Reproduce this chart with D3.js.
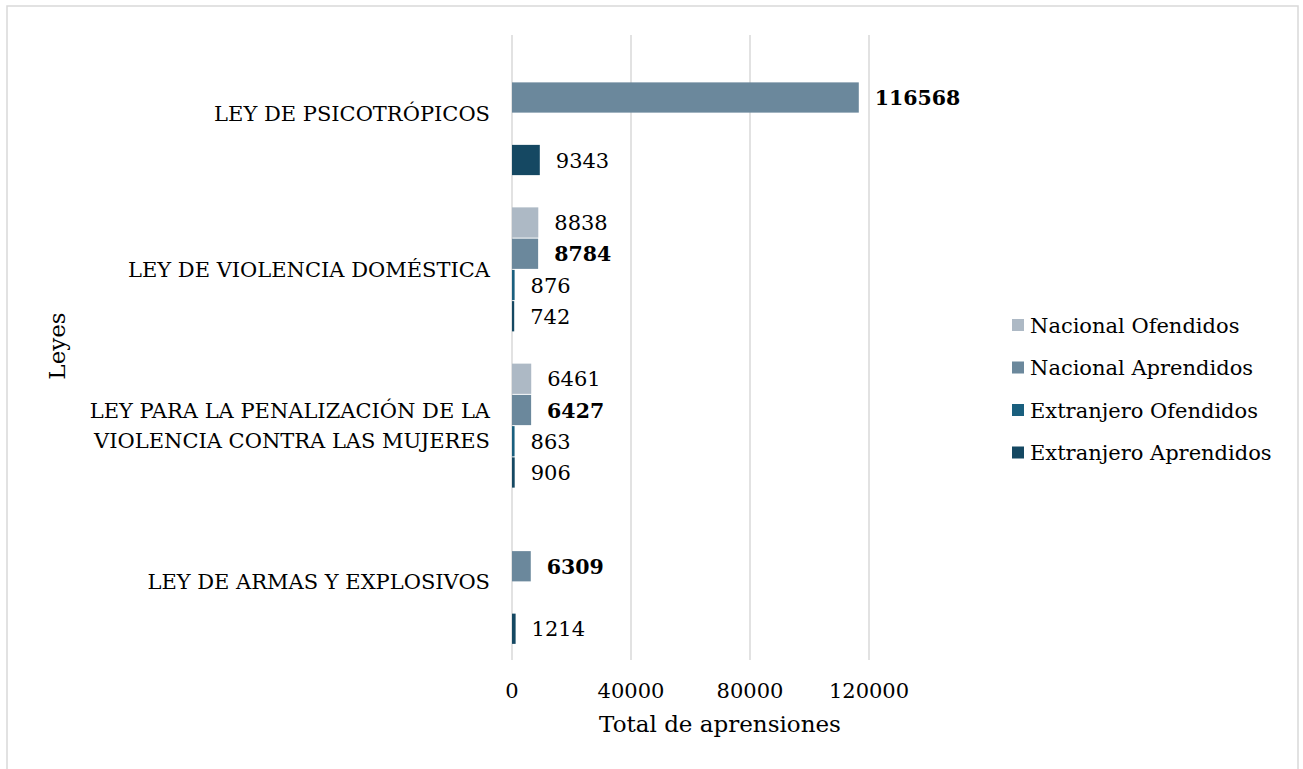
<!DOCTYPE html>
<html><head><meta charset="utf-8">
<script src="https://cdn.jsdelivr.net/npm/d3@7"></script>
<style>
body{margin:0;background:#fff;}
svg text{font-family:"DejaVu Serif","Liberation Serif",serif;fill:#000;}
</style></head>
<body>
<svg id="chart" width="1303" height="769"></svg>
<script>
const categories = [
  ["LEY DE PSICOTRÓPICOS"],
  ["LEY DE VIOLENCIA DOMÉSTICA"],
  ["LEY PARA LA PENALIZACIÓN DE LA", "VIOLENCIA CONTRA LAS MUJERES"],
  ["LEY DE ARMAS Y EXPLOSIVOS"]
];
const seriesNames = ["Nacional Ofendidos", "Nacional Aprendidos", "Extranjero Ofendidos", "Extranjero Aprendidos"];
const seriesColors = ["#adb9c5", "#6b889c", "#1a5f7e", "#154862"];
const nacionalOfendidos = [null, 8838, 6461, null];
const nacionalAprendidos = [116568, 8784, 6427, 6309];
const extranjeroOfendidos = [null, 876, 863, null];
const extranjeroAprendidos = [9343, 742, 906, 1214];
const xTicks = [0, 40000, 80000, 120000];
const seriesValues = [nacionalOfendidos, nacionalAprendidos, extranjeroOfendidos, extranjeroAprendidos];

const svg = d3.select("#chart");
svg.append("rect").attr("x", 7).attr("y", 6).attr("width", 1291).attr("height", 775)
  .attr("fill", "#fff").attr("stroke", "#d9d9d9").attr("stroke-width", 1.5);

const plotLeft = 512, plotTop = 35, plotBottom = 660;
const x = d3.scaleLinear().domain([0, 40000]).range([plotLeft, 631]);
const y0 = d3.scaleBand().domain(d3.range(categories.length)).range([plotTop, plotBottom]).paddingInner(0.2).paddingOuter(0.1);
const y1 = d3.scaleBand().domain(d3.range(seriesNames.length)).range([0, y0.bandwidth()]).padding(0);

// gridlines
svg.append("g").selectAll("line").data(xTicks).join("line")
  .attr("x1", d => x(d)).attr("x2", d => x(d))
  .attr("y1", plotTop).attr("y2", plotBottom)
  .attr("stroke", "#d9d9d9").attr("stroke-width", 1.5);

// tick labels
svg.append("g").selectAll("text").data(xTicks).join("text")
  .attr("x", d => x(d)).attr("y", 698).attr("text-anchor", "middle")
  .attr("font-size", 21).text(d => d);

// category labels
const catG = svg.append("g");
categories.forEach((lines, i) => {
  const cy = y0(i) + y0.bandwidth() / 2;
  const t = catG.append("text").attr("text-anchor", "end").attr("font-size", 21);
  lines.forEach((ln, k) => {
    t.append("tspan").attr("x", 490)
      .attr("y", cy + 7.5 + (k - (lines.length - 1) / 2) * 30).text(ln);
  });
});

// bars
const barData = [];
seriesValues.forEach((vals, s) => vals.forEach((v, c) => { if (v != null) barData.push({s, c, v}); }));
const bh = y1.bandwidth();
svg.append("g").selectAll("rect").data(barData).join("rect")
  .attr("x", x(0)).attr("y", d => y0(d.c) + y1(d.s) + 0.5)
  .attr("width", d => x(d.v) - x(0)).attr("height", bh - 1)
  .attr("fill", d => seriesColors[d.s]);

// value labels
svg.append("g").selectAll("text").data(barData).join("text")
  .attr("x", d => x(d.v) + 16).attr("y", d => y0(d.c) + y1(d.s) + bh / 2 + 7.5)
  .attr("font-size", d => d.s === 1 ? 20.5 : 21)
  .attr("font-weight", d => d.s === 1 ? "bold" : "normal")
  .text(d => d.v);

// axis titles
svg.append("text").attr("x", 720).attr("y", 732).attr("text-anchor", "middle")
  .attr("font-size", 23).text("Total de aprensiones");
svg.append("text").attr("transform", "translate(65,346) rotate(-90)").attr("text-anchor", "middle")
  .attr("font-size", 23).text("Leyes");

// legend
const lg = svg.append("g");
seriesNames.forEach((n, i) => {
  const cy = 325 + i * 42.5;
  lg.append("rect").attr("x", 1012).attr("y", cy - 6).attr("width", 12).attr("height", 12).attr("fill", seriesColors[i]);
  lg.append("text").attr("x", 1030).attr("y", cy + 7.5).attr("font-size", 21).text(n);
});
</script>
</body></html>
